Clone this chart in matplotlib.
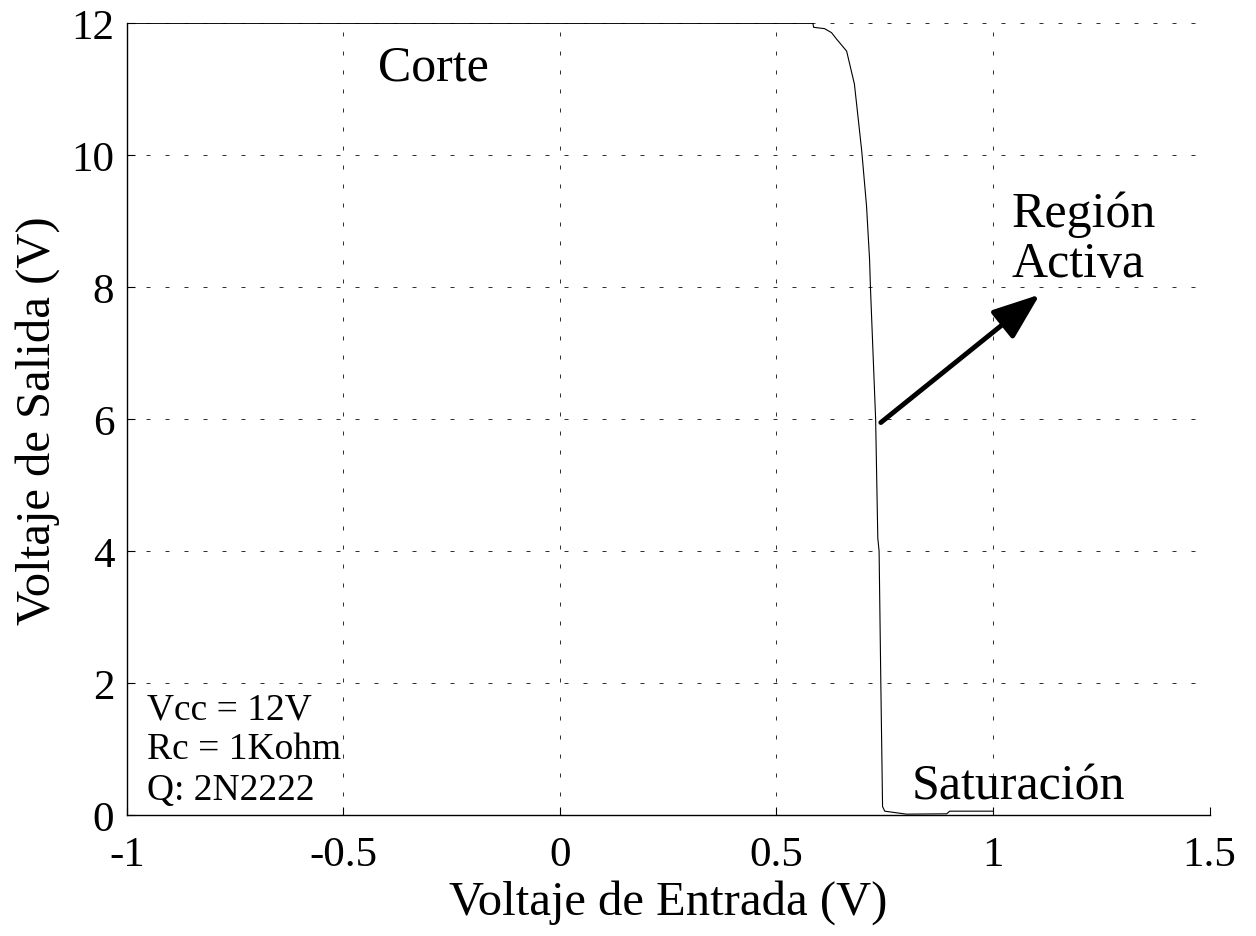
import matplotlib
matplotlib.use("Agg")
import matplotlib.pyplot as plt

plt.rcParams['font.family'] = ['Liberation Serif', 'DejaVu Serif']

# transfer curve
v_in = [-1.0, 0.584, 0.586, 0.611, 0.627, 0.639, 0.662, 0.680, 0.697, 0.708,
        0.715, 0.717, 0.729, 0.734, 0.737, 0.741, 0.745, 0.750, 0.80, 0.893,
        0.900, 1.0]
v_out = [12.0, 12.0, 11.94, 11.92, 11.86, 11.76, 11.58, 11.08, 10.06, 9.23,
         8.42, 8.0, 6.0, 4.2, 4.0, 2.0, 0.13, 0.06, 0.015, 0.02,
         0.06, 0.06]

x_ticks = [-1, -0.5, 0, 0.5, 1, 1.5]
x_labels = ['-1', '-0.5', '0', '0.5', '1', '1.5']
y_ticks = [0, 2, 4, 6, 8, 10, 12]

fig = plt.figure(figsize=(12.56, 9.37), dpi=100)
ax = fig.add_axes([0.101, 0.129, 0.862, 0.845])

ax.plot(v_in, v_out, color='black', linewidth=0.8)

ax.set_xlim(-1, 1.5)
ax.set_ylim(0, 12)
ax.set_xticks(x_ticks)
ax.set_xticklabels(x_labels)
ax.set_yticks(y_ticks)
ax.tick_params(direction='in', labelsize=31, length=6, width=0.8)
ax.tick_params(axis='x', pad=15)
ax.tick_params(axis='y', pad=9)
ax.grid(True, color='#333333', linestyle=(0, (4, 15)), linewidth=0.72)
ax.spines['top'].set_visible(False)
ax.spines['right'].set_visible(False)
ax.spines['left'].set_linewidth(1.0)
ax.spines['bottom'].set_linewidth(1.0)

ax.set_xlabel('Voltaje de Entrada (V)', fontsize=35, labelpad=3)
ax.set_ylabel('Voltaje de Salida (V)', fontsize=35, labelpad=8)

ax.text(-0.291, 11.33, 'Corte', fontsize=36, ha='center', va='center')
ax.text(1.043, 8.74, 'Región\nActiva', fontsize=36, ha='left', va='center',
        linespacing=1.1)
ax.text(0.812, 0.44, 'Saturación', fontsize=36, ha='left', va='center')
ax.text(-0.954, 1.0, 'Vcc = 12V\nRc = 1Kohm\nQ: 2N2222', fontsize=27,
        ha='left', va='center', linespacing=1.22)

ax.annotate('', xy=(1.108, 7.89), xytext=(0.741, 5.95),
            arrowprops=dict(arrowstyle='-|>,head_length=1.45,head_width=0.55',
                            mutation_scale=20, color='black', lw=3.5,
                            shrinkA=0, shrinkB=0))

fig.savefig('out.png', dpi=100)
